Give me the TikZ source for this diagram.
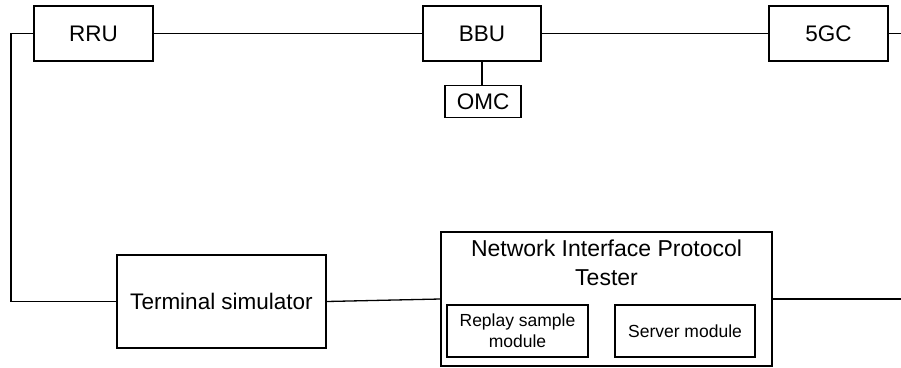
\documentclass[tikz,border=0pt]{standalone}
\usepackage{fontspec}
\setmainfont{Liberation Sans}

\tikzset{box/.style={draw,line width=1.3pt,inner sep=0pt,align=center,font=\fontsize{22.5}{26}\selectfont},
         smallbox/.style={box,font=\fontsize{17.5}{21}\selectfont},
         wire/.style={line width=1.3pt}}

\begin{document}
\begin{tikzpicture}[x=1pt,y=-1pt]
   \useasboundingbox (0,0) rectangle (901,367);
   % top row
   \node[box,minimum width=119,minimum height=55] (rru) at ( 93.5, 33.5) {RRU};
   \node[box,minimum width=118,minimum height=55] (bbu) at (482.0, 33.5) {BBU};
   \node[box,minimum width=119,minimum height=55] (gc)  at (828.5, 33.5) {5GC};
   \node[box,minimum width=76,minimum height=32,font=\fontsize{22.5}{26}\selectfont] (omc) at (483.0,101.5) {OMC};
   % bottom row
   \node[box,minimum width=209,minimum height=93] (ts) at (221.5,301.5) {Terminal simulator};
   \node[box,minimum width=331,minimum height=134] (nipt) at (606.5,299.0) {};
   \node[font=\fontsize{23}{29}\selectfont,align=center] (title) at (606.5,262.5) {Network Interface Protocol\\Tester};
   \node[smallbox,minimum width=141,minimum height=52] (rsm) at (517.5,331.0) {Replay sample\\module};
   \node[smallbox,minimum width=140,minimum height=52] (srv) at (685.0,331.0) {Server module};
   % free ends
   \coordinate (lt) at (11,33.5);
   \coordinate (rt) at (901,33.5);
   \coordinate (rb) at (901,299.0);
   % connectors
   \draw[wire] (rru.east) -- (bbu.west);
   \draw[wire] (bbu.east) -- (gc.west);
   \draw[wire] (gc.east) -- (rt);
   \draw[wire] (bbu.south) -- (bbu.south |- omc.north);
   \draw[wire] (rru.west) -- (lt) |- (ts.west);
   \draw[wire] (ts.east) -- (nipt.west);
   \draw[wire] (nipt.east) -- (rb);
\end{tikzpicture}
\end{document}
